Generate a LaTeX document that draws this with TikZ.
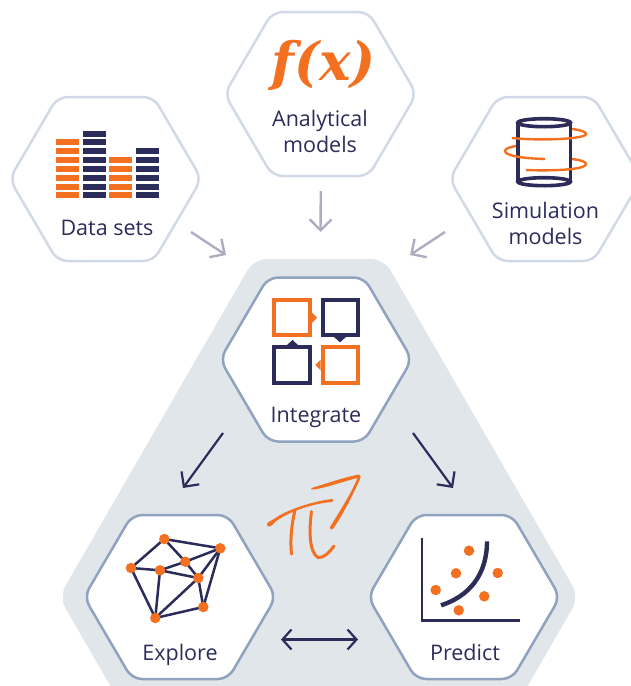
\documentclass[tikz,border=0pt]{standalone}
\usepackage{fontspec}
\setmainfont{Open Sans}
\newfontfamily\fxfont{DejaVu Serif}
\usetikzlibrary{arrows.meta}
\pgfdeclarelayer{front}
\pgfsetlayers{main,front}
\definecolor{orng}{HTML}{F37021}
\definecolor{navy}{HTML}{2B2C5A}
\definecolor{hexout}{HTML}{D2D9E6}
\definecolor{hexin}{HTML}{8FA2BE}
\definecolor{panel}{HTML}{E1E6EB}
\definecolor{arrgray}{HTML}{ADADC2}
\newcommand{\hexa}[4]{% cx, cy, halfwidth, style
  \draw[#4] (#1-#3,#2) -- (#1-#3/2,#2-82) -- (#1+#3/2,#2-82) -- (#1+#3,#2) -- (#1+#3/2,#2+82) -- (#1-#3/2,#2+82) -- cycle;}
\tikzset{
  hexpale/.style={draw=hexout,line width=2.5pt,rounded corners=10pt,fill=white,line join=round},
  hexstrong/.style={draw=hexin,line width=2.5pt,rounded corners=10pt,fill=white,line join=round},
  label text/.style={text=navy,font=\fontsize{21.5}{26}\selectfont,align=center,inner sep=0pt},
  grayarrow/.style={draw=arrgray,line width=2.4pt,-{Straight Barb[length=11pt,width=22pt,line width=2.4pt]}},
  navyarrow/.style={draw=navy,line width=2.2pt,-{Straight Barb[length=11pt,width=22pt,line width=2.2pt]}},
  navytwo/.style={draw=navy,line width=2.2pt,{Straight Barb[length=9pt,width=20pt,line width=2.2pt]}-{Straight Barb[length=9pt,width=20pt,line width=2.2pt]}},
  dot/.style={circle,fill=orng,inner sep=0pt,minimum size=10.5pt},
  edge line/.style={draw=navy,line width=2.5pt},
  box icon/.style={line width=3.8pt,miter limit=10},
}
\begin{document}
\begin{tikzpicture}[x=1pt,y=-1pt]
\clip (0,0) rectangle (631,686);
% panel
\fill[panel,rounded corners=13pt] (59,597) -- (254,259) -- (384,259) -- (579,597) -- (384,935) -- (254,935) -- cycle;
% hexagons
\hexa{105.5}{179}{96}{hexpale}
\hexa{320.5}{94}{96}{hexpale}
\hexa{545.5}{179}{96}{hexpale}
\hexa{316}{359.5}{96}{hexstrong}
\hexa{180}{597}{96}{hexstrong}
\hexa{464}{597}{96}{hexstrong}
% labels
\node[label text,anchor=base] (ds) at (107,235.5) {Data sets};
\node[label text] (am) at (320,131) {Analytical\\models};
\node[label text] (sm) at (545.5,223) {Simulation\\models};
\node[label text,anchor=base] (ig) at (316,422) {Integrate};
\node[label text,anchor=base] (ex) at (180,660) {Explore};
\node[label text,anchor=base] (pr) at (465,660) {Predict};
\node[text=orng,inner sep=0pt,font=\fontsize{53}{53}\fxfont\bfseries\itshape] (fx) at (323.5,65.5) {f(x)};
% arrow ends
\coordinate (g1a) at (191,232); \coordinate (g1b) at (226,255);
\coordinate (g2a) at (320.8,191); \coordinate (g2b) at (320.5,232);
\coordinate (g3a) at (445,232); \coordinate (g3b) at (410,255);
\coordinate (n1a) at (223,433); \coordinate (n1b) at (183,488);
\coordinate (n2a) at (413,433); \coordinate (n2b) at (453,488);
\coordinate (n3a) at (281,639.5); \coordinate (n3b) at (358,639.5);
\draw[grayarrow] (g1a) -- (g1b);
\draw[grayarrow] (g2a) -- (g2b);
\draw[grayarrow] (g3a) -- (g3b);
\draw[navyarrow] (n1a) -- (n1b);
\draw[navyarrow] (n2a) -- (n2b);
\draw[navytwo] (n3a) -- (n3b);
% data bars
\foreach \yt/\yb [count=\r] in {131/136.7,139/145,148/153.7,157/162.7,166/171.7,175/180.7,184/189.7,192/198}{
  \ifnum\r>1 \fill[orng] (56,\yt) rectangle (79,\yb);\fi
  \fill[navy] (83,\yt) rectangle (106,\yb);
  \ifnum\r>3 \fill[orng] (109,\yt) rectangle (132,\yb);\fi
  \ifnum\r>2 \fill[navy] (136,\yt) rectangle (159,\yb);\fi
}
% cylinder
\draw[navy,line width=3.6pt] (517.8,122.7) -- (517.8,181.7);
\draw[navy,line width=3.6pt] (570.4,122.7) -- (570.4,181.7);
\draw[navy,line width=3.6pt] (544.1,122.7) ellipse[x radius=26.3,y radius=4];
\draw[navy,line width=3.6pt] (544.1,181.7) ellipse[x radius=26.3,y radius=4];
\draw[orng,line width=2.4pt] (512,138) .. controls (540,141) and (586,139) .. (586,134) .. controls (586,131.5) and (580,130) .. (572,129);
\draw[orng,line width=2.4pt] (545,159) .. controls (525,158.5) and (505,156) .. (505,151) .. controls (505,148.5) and (510,147) .. (516,146);
\draw[orng,line width=2.4pt] (526,170) .. controls (550,171) and (586,170) .. (586,164) .. controls (586,161.5) and (580,160) .. (572,159);
% integrate icon
\draw[orng,box icon] (274.2,299.6) rectangle (310,335.2);
\draw[navy,box icon] (322.6,299.6) rectangle (358.2,335.2);
\draw[navy,box icon] (274.2,346.9) rectangle (310,383.2);
\draw[orng,box icon] (322.6,346.9) rectangle (358.2,383.2);
\fill[orng] (312,312.5) -- (317,317.7) -- (312,323) -- cycle;
\fill[navy] (334,337) -- (340,342.3) -- (346,337) -- cycle;
\fill[navy] (287,345) -- (292.5,340) -- (298,345) -- cycle;
\fill[orng] (320.7,359.5) -- (315.5,365) -- (320.7,370.5) -- cycle;
% network
\begin{pgfonlayer}{front}
\node[dot] (a) at (164.3,539) {};
\node[dot] (b) at (220.3,548.3) {};
\node[dot] (c) at (185.3,561.7) {};
\node[dot] (d) at (131,568) {};
\node[dot] (e) at (160,570.3) {};
\node[dot] (f) at (198.3,578) {};
\node[dot] (g) at (203.3,607) {};
\node[dot] (h) at (155.3,618) {};
\end{pgfonlayer}
\foreach \p/\q in {a/b,a/d,a/c,c/b,e/c,d/e,e/f,c/f,f/b,d/h,e/h,f/h,h/g,f/g,g/b}
  \draw[edge line] (\p.center) -- (\q.center);
% predict
\coordinate (ax1) at (422.3,538); \coordinate (ax0) at (422.3,620.5); \coordinate (ax2) at (520,620.5);
\draw[navy,line width=2.2pt] (ax1) -- (ax0) -- (ax2);
\draw[navy,line width=4.4pt] (441,605.3) .. controls (470,596) and (487,574) .. (487,541.3);
\foreach \n/\x/\y in {p1/469/550.7,p2/456/573.3,p3/497.7/573,p4/435.7/590,p5/484.3/596.3,p6/458.7/610.3}
  \node[dot] (\n) at (\x,\y) {};
% pi
\fill[orng] (267,524.5) .. controls (267.5,521.5) and (271,521) .. (274,519) .. controls (286,510) and (312,501.5) .. (332,499) .. controls (334,499.5) and (334,501) .. (332,502) .. controls (312,503.5) and (288,512) .. (275,522) .. controls (272,527) and (266.5,528) .. (267,524.5) -- cycle;
\draw[orng,line width=3pt,line cap=round] (295,510) .. controls (291.5,525) and (290,540) .. (291.5,554);
\draw[orng,line width=3pt,line cap=round] (311.5,511.5) .. controls (309,530) and (309,552) .. (318,557.5) .. controls (323,558.5) and (330,552) .. (334,546);
\fill[orng] (311.5,488) .. controls (325,484) and (345,477) .. (359,474.5) .. controls (361,475) and (361,477) .. (360,479) .. controls (352,497) and (342,516) .. (333,529) .. controls (331,531) and (329.5,529) .. (330,527) .. controls (338,514) and (351,494) .. (357.5,478) .. controls (345,481) and (325,488) .. (314,489.5) .. controls (311.5,490) and (310.5,489) .. (311.5,488) -- cycle;
\end{tikzpicture}
\end{document}
